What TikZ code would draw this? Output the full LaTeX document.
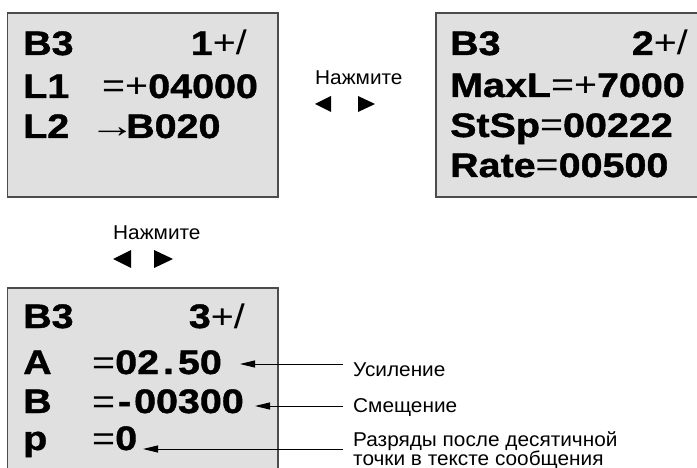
\documentclass[tikz,border=0pt]{standalone}
\usepackage{fontspec}
\setmainfont{Liberation Sans}[FakeStretch=1.04]
\newfontfamily\lcdfont{Liberation Sans}[FakeStretch=1.16, BoldFeatures={FakeBold=1.2}]
\usetikzlibrary{arrows.meta}

\newcommand{\lcdreg}[1]{{\mdseries #1}}
\newcommand{\digcell}[1]{\makebox[0.556em]{#1}}

\tikzset{
  screen/.style={draw=black!70, fill=black!12, line width=1.3pt},
  lcd/.style={font=\lcdfont\fontsize{34}{40}\selectfont\bfseries, inner sep=0pt, anchor=base west},
  lcdright/.style={lcd, anchor=base east},
  hint/.style={font=\fontsize{20}{19}\selectfont, inner sep=0pt, anchor=base west},
  pointer/.style={-{Triangle[length=15pt,width=7pt]}, line width=0.9pt}
}

\begin{document}
\begin{tikzpicture}[x=1pt, y=-1pt]
\clip (0,0) rectangle (697,468);
% screens
\draw[screen] (7.5,13) rectangle (278,197);
\draw[screen] (436,13) rectangle (705,197);
\draw[screen] (7.5,288) rectangle (278,480);

% screen 1
\node[lcd] (s1b) at (23,55) {B3};
\node[lcdright] (s1n) at (247,55) {1\lcdreg{+/}};
\node[lcd] (s1l1) at (23,98) {L1};
\node[lcd] (s1v1) at (102,98) {\lcdreg{=+}04000};
\node[lcd] (s1l2) at (23,138) {L2};
\node[lcd] (s1ar) at (89,138) {\scalebox{1.18}[1]{\lcdreg{→}}};
\node[lcd] (s1v2) at (126,138) {B020};

% screen 2
\node[lcd] (s2b) at (450,55) {B3};
\node[lcdright] (s2n) at (688,55) {2\lcdreg{+/}};
\node[lcd] (s2max) at (450,97) {MaxL\lcdreg{=+}7000};
\node[lcd] (s2stsp) at (450,137) {StSp\lcdreg{=}00222};
\node[lcd] (s2rate) at (450,177) {Rate\lcdreg{=}00500};

% screen 3
\node[lcd] (s3b) at (23,328) {B3};
\node[lcdright] (s3n) at (245,328) {3\lcdreg{+/}};
\node[lcd] (s3a) at (23,374) {A};
\node[lcd] (s3va) at (92,374) {\lcdreg{=}02\digcell{.}50};
\node[lcd] (s3bb) at (23,413) {B};
\node[lcd] (s3vb) at (92,413) {\lcdreg{=}\digcell{-}00300};
\node[lcd] (s3p) at (23,450) {p};
\node[lcd] (s3vp) at (92,450) {\lcdreg{=}0};

% key hints
\node[hint] (press1) at (315,85) {Нажмите};
\fill (315,104) -- (331,96) -- (331,112) -- cycle;
\fill (375,104) -- (358,96) -- (358,112) -- cycle;
\node[hint] (press2) at (113,240) {Нажмите};
\fill (113,259) -- (131,250) -- (131,268) -- cycle;
\fill (173,259) -- (154,250) -- (154,268) -- cycle;

% labels
\node[hint] (gain) at (353,376) {Усиление};
\node[hint] (offset) at (353,412) {Смещение};
\node[hint, align=left] (digits) at (353,465) {Разряды после десятичной\\точки в тексте сообщения};
\coordinate (gainend) at (343,364);
\coordinate (gaintip) at (240,364);
\coordinate (offsetend) at (343,406);
\coordinate (offsettip) at (255,406);
\coordinate (digitsend) at (343,449);
\coordinate (digitstip) at (143,449);
\draw[pointer] (gainend) -- (gaintip);
\draw[pointer] (offsetend) -- (offsettip);
\draw[pointer] (digitsend) -- (digitstip);
\end{tikzpicture}
\end{document}
